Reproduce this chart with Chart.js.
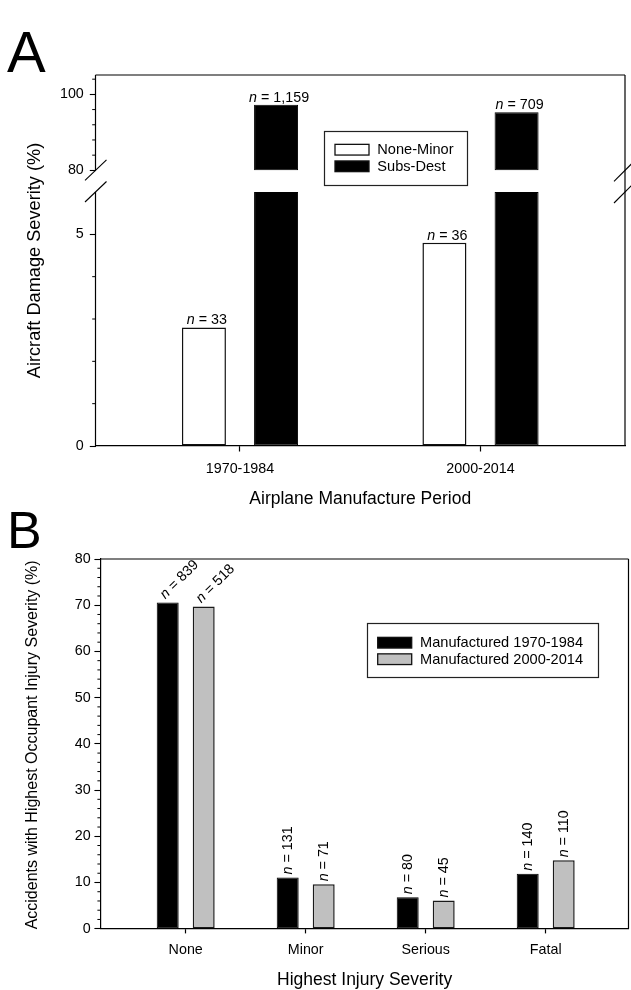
<!DOCTYPE html>
<html><head><meta charset="utf-8">
<script src="https://cdn.jsdelivr.net/npm/chart.js@4.4.0/dist/chart.umd.min.js"></script>
<style>
html,body{margin:0;padding:0;background:#fff;}
body{width:631px;height:990px;position:relative;overflow:hidden;}
canvas{position:absolute;left:0;}
#cA{top:0;}
#cB{top:490px;}
</style></head><body>
<canvas id="cA" width="631" height="515"></canvas>
<canvas id="cB" width="631" height="500"></canvas>
<script>
// ---------- Panel A data ----------
const periodsA = ['1970-1984', '2000-2014'];
const noneMinorPct = [2.8, 4.8];
const subsDestPct = [97.3, 95.3];
const noneMinorN = [33, 36];
const subsDestN = [1159, 709];
const ticksAHigh = [80, 100];
const minorAHigh = [84, 88, 92, 96, 104];
const ticksALow = [0, 5];
const minorALow = [1, 2, 3, 4];
const A_LOW_TOP = 6;      // top of lower axis segment (bars broken here)
const A_HIGH_BASE = 80;   // bottom of upper axis segment

// ---------- Panel B data ----------
const injuryCats = ['None', 'Minor', 'Serious', 'Fatal'];
const pct7084 = [70.6, 11.1, 6.8, 11.9];
const pct0014 = [69.7, 9.6, 6.1, 14.8];
const n7084 = [839, 131, 80, 140];
const n0014 = [518, 71, 45, 110];
const ticksB = [0, 10, 20, 30, 40, 50, 60, 70, 80];
const minorB = [2,4,6,8,12,14,16,18,22,24,26,28,32,34,36,38,42,44,46,48,52,54,56,58,62,64,66,68,72,74,76,78];

const FAM = '"Liberation Sans", Arial, Helvetica, sans-serif';
const TICK_FONT = {family: FAM, size: 14.3};
const INK = '#000';

function fmtN(n) { return String(n).replace(/\B(?=(\d{3})+(?!\d))/g, ','); }

function nLabel(ctx, n, x, y, rot, align, baseline) {
  const rest = ' = ' + fmtN(n);
  ctx.save();
  ctx.font = 'italic 14.3px ' + FAM;
  const w1 = ctx.measureText('n').width;
  ctx.font = '14.3px ' + FAM;
  const w2 = ctx.measureText(rest).width;
  ctx.translate(x, y);
  ctx.rotate(rot);
  ctx.fillStyle = INK;
  ctx.textAlign = 'left';
  ctx.textBaseline = baseline;
  const sx = align === 'center' ? -(w1 + w2) / 2 : 0;
  ctx.font = 'italic 14.3px ' + FAM;
  ctx.fillText('n', sx, 0);
  ctx.font = '14.3px ' + FAM;
  ctx.fillText(rest, sx + w1, 0);
  ctx.restore();
}

function line(ctx, x1, y1, x2, y2, w, c) {
  ctx.save();
  ctx.strokeStyle = c || INK;
  ctx.lineWidth = w || 1;
  ctx.beginPath(); ctx.moveTo(x1, y1); ctx.lineTo(x2, y2); ctx.stroke();
  ctx.restore();
}

function text(ctx, s, x, y, size, rot, align, baseline, style) {
  ctx.save();
  ctx.translate(x, y);
  ctx.rotate(rot || 0);
  ctx.font = (style || '') + ' ' + size + 'px ' + FAM;
  ctx.fillStyle = INK;
  ctx.textAlign = align || 'center';
  ctx.textBaseline = baseline || 'middle';
  ctx.fillText(s, 0, 0);
  ctx.restore();
}

function drawLegend(ctx, chart, L) {
  ctx.save();
  ctx.fillStyle = '#fff';
  ctx.fillRect(L.x, L.y, L.w, L.h);
  ctx.strokeStyle = '#222';
  ctx.lineWidth = 1.2;
  ctx.strokeRect(L.x, L.y, L.w, L.h);
  const items = chart.data.datasets.filter(d => d.inLegend);
  items.forEach((d, i) => {
    const sy = L.rows[i] - L.swH / 2;
    ctx.fillStyle = d.backgroundColor;
    ctx.fillRect(L.swX, sy, L.swW, L.swH);
    ctx.strokeStyle = '#111';
    ctx.lineWidth = 1.3;
    ctx.strokeRect(L.swX, sy, L.swW, L.swH);
    text(ctx, d.label, L.textX, L.rows[i] + 0.5, L.size, 0, 'left', 'middle');
  });
  ctx.restore();
}

function minorTicks(ctx, scale, values, len) {
  values.forEach(v => {
    const y = scale.getPixelForValue(v);
    line(ctx, scale.right - len, y, scale.right, y, 1);
  });
}

const panelAPlugin = {
  id: 'panelA',
  afterDraw(chart) {
    const ctx = chart.ctx;
    const a = chart.chartArea;
    const yH = chart.scales.yHigh, yL = chart.scales.yLow;
    const pBreakHigh = yH.getPixelForValue(A_HIGH_BASE);
    const pBreakLow = yL.getPixelForValue(A_LOW_TOP);
    // left axis with break
    line(ctx, a.left, a.top, a.left, pBreakHigh, 1.2);
    line(ctx, a.left, pBreakLow, a.left, a.bottom, 1.2);
    // frame top & right
    line(ctx, a.left, a.top, a.right, a.top, 1.2);
    line(ctx, a.right, a.top, a.right, a.bottom, 1.2);
    // break marks
    [pBreakHigh, pBreakLow].forEach(y => {
      line(ctx, a.left - 10.5, y + 10, a.left + 11, y - 10.5, 1.1);
      line(ctx, a.right - 11, y + 11, a.right + 7, y - 7, 1.1);
    });
    minorTicks(ctx, yH, minorAHigh, 3.3);
    minorTicks(ctx, yL, minorALow, 3.3);
    // n labels
    const m0 = chart.getDatasetMeta(0), m2 = chart.getDatasetMeta(2);
    m0.data.forEach((el, i) => nLabel(ctx, noneMinorN[i], el.x + 3, el.y - 3.3, 0, 'center', 'alphabetic'));
    m2.data.forEach((el, i) => nLabel(ctx, subsDestN[i], el.x + 3, el.y - 3, 0, 'center', 'alphabetic'));
    // legend
    drawLegend(ctx, chart, {x: 324.5, y: 131.5, w: 143, h: 54, swX: 335, swW: 34, swH: 10.7, textX: 377.3, rows: [149.7, 166.3], size: 14.6});
    // titles
    text(ctx, 'Airplane Manufacture Period', (a.left + a.right) / 2, 499.3, 17.5);
    text(ctx, 'Aircraft Damage Severity (%)', 35, (a.top + a.bottom) / 2, 18.2, -Math.PI / 2);
    text(ctx, 'A', 7, 72, 58, 0, 'left', 'alphabetic');
  }
};

const panelBPlugin = {
  id: 'panelB',
  afterDraw(chart) {
    const ctx = chart.ctx;
    const a = chart.chartArea;
    line(ctx, a.left, a.top, a.right, a.top, 1.2);
    line(ctx, a.right, a.top, a.right, a.bottom, 1.2);
    minorTicks(ctx, chart.scales.y, minorB, 3.3);
    const m0 = chart.getDatasetMeta(0), m1 = chart.getDatasetMeta(1);
    [[m0, n7084], [m1, n0014]].forEach(([m, ns]) => {
      m.data.forEach((el, i) => {
        if (i === 0) nLabel(ctx, ns[i], el.x - 2.5, el.y - 3, -Math.PI / 4, 'left', 'alphabetic');
        else nLabel(ctx, ns[i], el.x, el.y - 3, -Math.PI / 2, 'left', 'middle');
      });
    });
    drawLegend(ctx, chart, {x: 367.5, y: 133.5, w: 231, h: 54, swX: 377.7, swW: 34, swH: 10.7, textX: 420, rows: [152.7, 169.2], size: 14.6});
    text(ctx, 'Highest Injury Severity', (a.left + a.right) / 2, 980 - 490, 17.5);
    text(ctx, 'Accidents with Highest Occupant Injury Severity (%)', 33, (a.top + a.bottom) / 2 + 1, 16, -Math.PI / 2);
    text(ctx, 'B', 7, 548 - 490, 52, 0, 'left', 'alphabetic');
  }
};

const barCommon = {categoryPercentage: 0.6, barPercentage: 0.61, borderSkipped: false};

new Chart(document.getElementById('cA'), {
  type: 'bar',
  data: {
    datasets: [
      Object.assign({label: 'None-Minor', yAxisID: 'yLow', stack: 'nm', inLegend: true,
        data: noneMinorPct.map((v, i) => ({x: i + 1, y: v})),
        backgroundColor: '#ffffff', borderColor: '#111', borderWidth: 1.5}, barCommon),
      Object.assign({label: 'Subs-Dest', yAxisID: 'yLow', stack: 'sd', inLegend: true,
        data: subsDestPct.map((v, i) => ({x: i + 1, y: Math.min(v, A_LOW_TOP)})),
        backgroundColor: '#000000', borderColor: '#000', borderWidth: 1}, barCommon),
      Object.assign({label: 'Subs-Dest', yAxisID: 'yHigh', stack: 'sd',
        data: subsDestPct.map((v, i) => ({x: i + 1, y: [A_HIGH_BASE, v]})),
        backgroundColor: '#000000', borderColor: '#000', borderWidth: 1}, barCommon)
    ]
  },
  options: {
    responsive: false, animation: false, devicePixelRatio: 1,
    layout: {padding: {top: 75, left: 0, right: 6, bottom: 29}},
    plugins: {legend: {display: false}, tooltip: {enabled: false}},
    scales: {
      x: {
        type: 'linear', min: 0.3992, max: 2.6008, offset: false,
        grid: {display: true, offset: false, drawOnChartArea: false, drawTicks: true, tickLength: 5.5, tickColor: INK, tickWidth: 1.2},
        border: {display: true, color: INK, width: 1.2},
        ticks: {autoSkip: false, maxRotation: 0, minRotation: 0, padding: 8.5, color: INK, font: TICK_FONT,
          callback: (v, i) => periodsA[i]},
        afterBuildTicks: s => { s.ticks = periodsA.map((_, i) => ({value: i + 1})); },
        afterFit: s => { s.height = 40; }
      },
      yHigh: {
        type: 'linear', position: 'left', stack: 'a', stackWeight: 106, weight: 1, stacked: false,
        min: 77.2, max: 105.1,
        grid: {display: true, drawOnChartArea: false, drawTicks: true, tickLength: 5.7, tickColor: INK, tickWidth: 1.1},
        border: {display: false},
        ticks: {padding: 6, color: INK, font: TICK_FONT},
        afterBuildTicks: s => { s.ticks = ticksAHigh.map(v => ({value: v})); },
        afterFit: s => { s.width = 95.5; }
      },
      yLow: {
        type: 'linear', position: 'left', stack: 'a', stackWeight: 265, weight: 0, stacked: false,
        min: 0, max: 6.26,
        grid: {display: true, drawOnChartArea: false, drawTicks: true, tickLength: 5.7, tickColor: INK, tickWidth: 1.1},
        border: {display: false},
        ticks: {padding: 6, color: INK, font: TICK_FONT},
        afterBuildTicks: s => { s.ticks = ticksALow.map(v => ({value: v})); },
        afterFit: s => { s.width = 95.5; }
      }
    }
  },
  plugins: [panelAPlugin]
});

new Chart(document.getElementById('cB'), {
  type: 'bar',
  data: {
    datasets: [
      Object.assign({label: 'Manufactured 1970-1984', inLegend: true,
        data: pct7084.map((v, i) => ({x: i, y: v})),
        backgroundColor: '#000000', borderColor: '#000', borderWidth: 1}, barCommon),
      Object.assign({label: 'Manufactured 2000-2014', inLegend: true,
        data: pct0014.map((v, i) => ({x: i, y: v})),
        backgroundColor: '#c0c0c0', borderColor: '#1a1a1a', borderWidth: 1.5}, barCommon)
    ]
  },
  options: {
    responsive: false, animation: false, devicePixelRatio: 1,
    layout: {padding: {top: 69, left: 0, right: 2.5, bottom: 21.3}},
    plugins: {legend: {display: false}, tooltip: {enabled: false}},
    scales: {
      x: {
        type: 'linear', min: -0.7083, max: 3.69, offset: false,
        grid: {display: true, offset: false, drawOnChartArea: false, drawTicks: true, tickLength: 4.7, tickColor: INK, tickWidth: 1.2},
        border: {display: true, color: INK, width: 1.2},
        ticks: {autoSkip: false, maxRotation: 0, minRotation: 0, padding: 7.6, color: INK, font: TICK_FONT,
          callback: (v, i) => injuryCats[i]},
        afterBuildTicks: s => { s.ticks = injuryCats.map((_, i) => ({value: i})); },
        afterFit: s => { s.height = 40; }
      },
      y: {
        type: 'linear', position: 'left', min: 0, max: 80,
        grid: {display: true, drawOnChartArea: false, drawTicks: true, tickLength: 6.3, tickColor: INK, tickWidth: 1.1},
        border: {display: true, color: INK, width: 1.2},
        ticks: {padding: 3.7, color: INK, font: TICK_FONT},
        afterBuildTicks: s => { s.ticks = ticksB.map(v => ({value: v})); },
        afterFit: s => { s.width = 100.7; }
      }
    }
  },
  plugins: [panelBPlugin]
});
</script>
</body></html>
